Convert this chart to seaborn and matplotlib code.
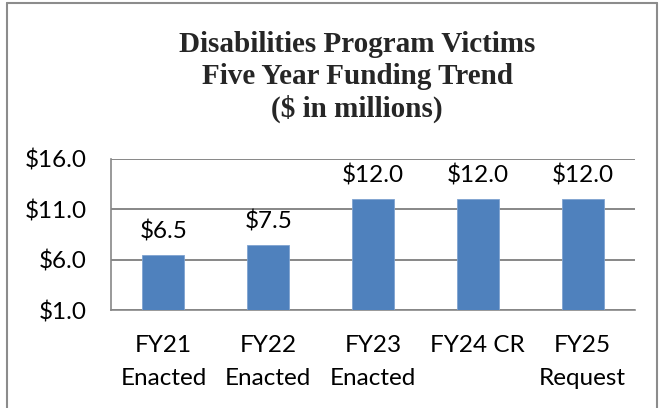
import matplotlib
matplotlib.use("Agg")
import matplotlib.pyplot as plt
import seaborn as sns
import pandas as pd
from matplotlib.lines import Line2D

categories = ["FY21\nEnacted", "FY22\nEnacted", "FY23\nEnacted", "FY24 CR", "FY25\nRequest"]
values = [6.5, 7.5, 12.0, 12.0, 12.0]
yticks = [1.0, 6.0, 11.0, 16.0]
title = "Disabilities Program Victims\nFive Year Funding Trend\n($ in millions)"

sns.set_theme(style="white")
plt.rcParams['font.family'] = ['Lato', 'DejaVu Sans']

df = pd.DataFrame({"cat": categories, "val": values})

fig = plt.figure(figsize=(6.64, 4.08), dpi=100)
ax = fig.add_axes([111/664, 1 - 310/408, (635 - 111)/664, (310 - 159)/408])

sns.barplot(data=df, x="cat", y="val", color="#4F81BD", width=0.4, saturation=1,
            edgecolor="#7FA3D1", linewidth=0.6, ax=ax, zorder=3)

grid_c = "#878787"
fs = 17.5
ax.set_ylim(1, 16)
ax.set_xlim(-0.5, len(categories) - 0.5)
ax.set_yticks(yticks)
ax.set_yticklabels([f"${v:.1f}" for v in yticks])
ax.yaxis.grid(True, color=grid_c, linewidth=1.4, zorder=0)
ax.set_axisbelow(True)

# Excel-style ticks at category boundaries, labels at centers
ax.set_xticks([i - 0.5 for i in range(len(categories) + 1)])
ax.set_xticklabels([])
ax.set_xticks(range(len(categories)), categories, minor=True)
ax.tick_params(axis="x", which="major", length=6.5, width=1.2, color=grid_c, direction="out")
ax.tick_params(axis="x", which="minor", length=0, pad=18, labelsize=fs, labelcolor="black")
ax.tick_params(axis="y", length=6.5, width=1.2, color=grid_c, direction="out", pad=11,
               labelsize=fs, labelcolor="black")
ax.set_xlabel("")
ax.set_ylabel("")

for s in ["top", "right"]:
    ax.spines[s].set_visible(False)
for s in ["left", "bottom"]:
    ax.spines[s].set_color(grid_c)
    ax.spines[s].set_linewidth(1.2)

for c in ax.containers:
    ax.bar_label(c, labels=[f"${v:.1f}" for v in values], padding=9, fontsize=fs, color="black")

fig.text(357/664, 1 - 31/408, title, ha="center", va="top", fontsize=21, fontweight="bold",
         family="Liberation Serif", linespacing=1.22)

# outer frame
fc = "#8C8C8C"
fig.add_artist(Line2D([7/664, 7/664], [0, 1 - 3/408], color=fc, linewidth=1.5))
fig.add_artist(Line2D([657/664, 657/664], [0, 1 - 3/408], color=fc, linewidth=1.5))
fig.add_artist(Line2D([7/664, 657/664], [1 - 3/408, 1 - 3/408], color=fc, linewidth=1.5))

fig.canvas.draw()
for t in ax.get_xticklabels(minor=True):
    t.set_linespacing(1.7)

fig.savefig("out.png", dpi=100)
